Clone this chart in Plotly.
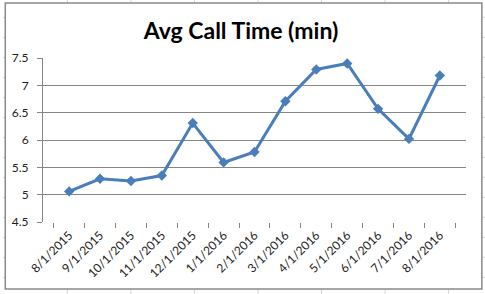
import plotly.graph_objects as go

months = ["8/1/2015", "9/1/2015", "10/1/2015", "11/1/2015", "12/1/2015",
          "1/1/2016", "2/1/2016", "3/1/2016", "4/1/2016", "5/1/2016",
          "6/1/2016", "7/1/2016", "8/1/2016"]
avg_call_time = [5.06, 5.29, 5.25, 5.35, 6.31, 5.59, 5.78, 6.71, 7.29, 7.40, 6.57, 6.02, 7.18]
y_ticks = [4.5, 5, 5.5, 6, 6.5, 7, 7.5]

W, H = 485, 294
L, R, T, B = 40, 19, 58, 72
pw, ph = W - L - R, H - T - B

def px(x):
    return (x - L) / pw

def py(y):
    return 1 - (y - T) / ph

shapes = []
# spreadsheet gridlines behind the chart object
for cx in [64, 128, 192, 256, 320, 384, 448]:
    shapes.append(dict(type="line", xref="paper", yref="paper", x0=px(cx + 0.5), x1=px(cx + 0.5),
                       y0=py(0), y1=py(H), line=dict(color="#d4d4d4", width=1), layer="below"))
for ry in range(17, H, 20):
    shapes.append(dict(type="line", xref="paper", yref="paper", x0=px(0), x1=px(W),
                       y0=py(ry + 0.5), y1=py(ry + 0.5), line=dict(color="#d4d4d4", width=1), layer="below"))
# chart frame
shapes.append(dict(type="rect", xref="paper", yref="paper", x0=px(2), x1=px(482),
                   y0=py(289), y1=py(3), fillcolor="white",
                   line=dict(color="#8a8a8a", width=1.5), layer="below"))

fig = go.Figure()
fig.add_trace(go.Scatter(
    x=months, y=avg_call_time, mode="lines+markers",
    line=dict(color="#4a7ebb", width=3),
    marker=dict(symbol="diamond", size=8, color="#4a7ebb"),
    showlegend=False,
))

fig.update_layout(
    width=W, height=H,
    margin=dict(l=L, r=R, t=T, b=B),
    paper_bgcolor="white",
    plot_bgcolor="rgba(0,0,0,0)",
    shapes=shapes,
    font=dict(family="Lato", size=12, color="#222222"),
    title=dict(text="<b>Avg Call Time (min)</b>", x=241 / W, xref="container", xanchor="center",
               y=1 - 31 / H, yref="container", yanchor="middle",
               font=dict(family="Lato", size=23, color="#000000")),
)
fig.update_xaxes(
    type="category", tickson="boundaries", ticks="outside", ticklen=5,
    tickcolor="#868686", showline=False, showgrid=False, tickangle=-45,
    tickfont=dict(size=12), zeroline=False, ticklabelstandoff=3,
)
fig.update_yaxes(
    range=[4.5, 7.5], tickvals=y_ticks, ticktext=[f"{v:g}" for v in y_ticks],
    showgrid=True, gridcolor="#868686", gridwidth=1,
    showline=True, linecolor="#868686", linewidth=1,
    ticks="outside", ticklen=5, tickcolor="#868686",
    ticklabelstandoff=6, zeroline=False, tickfont=dict(size=12),
)

fig.write_html("out.html")
